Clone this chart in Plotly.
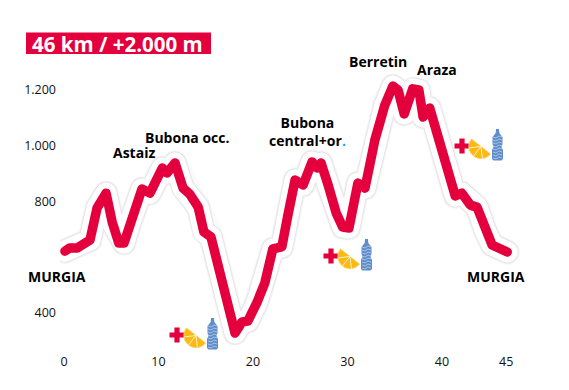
import plotly.graph_objects as go
import math

km = [0.1,0.6,1.4,2.1,2.75,3.5,4.45,5.1,5.8,6.35,7.0,7.6,8.25,9.1,10.4,10.9,11.75,12.6,13.3,14.2,14.8,15.55,
      16.7,17.55,18.1,18.85,19.45,20.4,21.25,22.1,23.05,23.7,24.45,25.3,26.25,26.8,27.2,27.95,28.8,29.5,30.15,
      31.1,31.85,32.9,33.95,34.8,35.35,36.0,36.9,37.55,38.0,38.7,39.8,40.6,41.4,42.1,43.0,43.7,44.55,45.3,46.45,46.9]
alt = [622,633,633,648,662,777,830,726,651,651,726,787,845,830,920,902,938,848,827,780,691,673,
       518,393,328,368,371,436,508,630,637,752,877,859,942,920,938,859,759,708,705,
       866,848,1021,1146,1214,1200,1114,1204,1200,1103,1135,1003,906,820,830,787,780,698,644,626,619]
x_tick_vals = [0,10,20,30,40,46.8]
x_tick_text = ["0","10","20","30","40","45"]
y_tick_vals = [400,800,1000,1200]
y_tick_text = ["400","800","1.000","1.200"]
title = "46 km / +2.000 m"
places = [("Astaiz",134,152),("Bubona occ.",187,137),
          ("Bubona<br>central+or<span style='color:#00AEEF'>.</span>",307,131),
          ("Berretin",378,62),("Araza",437,69),("MURGIA",57,276),("MURGIA",496,276)]
icon_spots = [(177,335),(331,256),(462,146)]

W,H = 569,390
L,R,T,B = 60,540,30,345
PXKM = 9.45; PXM = 0.27875
xr = [(L-64)/PXKM,(R-64)/PXKM]
yr = [1200-(B-90)/PXM,1200-(T-90)/PXM]
RED = "#E4003D"; FONT = "Open Sans, sans-serif"

def fx(p): return (p-L)/(R-L)
def fy(p): return 1-(p-T)/(B-T)
def path(pts, close=True):
    s = " ".join(("M" if i==0 else "L")+f"{fx(a):.5f},{fy(b):.5f}" for i,(a,b) in enumerate(pts))
    return s+(" Z" if close else "")

fig = go.Figure()
for col,w in [("rgba(0,0,0,0.02)",26),("rgba(0,0,0,0.03)",24.5),("rgba(0,0,0,0.05)",23),("#ffffff",21),(RED,9.5)]:
    fig.add_trace(go.Scatter(x=km,y=alt,mode="lines",cliponaxis=False,hoverinfo="skip",line=dict(color=col,width=w)))

shapes = [dict(type="rect",xref="paper",yref="paper",x0=fx(26),x1=fx(211),y0=fy(54),y1=fy(32.5),
               fillcolor=RED,line=dict(width=0),layer="below")]
for cx,cy in icon_spots:
    t=2.6; a=7.5
    cross=[(cx-t,cy-a),(cx+t,cy-a),(cx+t,cy-t),(cx+a,cy-t),(cx+a,cy+t),(cx+t,cy+t),(cx+t,cy+a),(cx-t,cy+a),(cx-t,cy+t),(cx-a,cy+t),(cx-a,cy-t),(cx-t,cy-t)]
    shapes.append(dict(type="path",xref="paper",yref="paper",path=path(cross),fillcolor=RED,line=dict(width=0)))
    ox,oy=cx+9.5,cy-7; ex,ey=cx+28.5,cy+8
    mx,my=(ox+ex)/2,(oy+ey)/2; r=math.hypot(ex-ox,ey-oy)/2; a0=math.atan2(oy-my,ox-mx)
    arc=[(mx+r*math.cos(a0-i*math.pi/14),my+r*math.sin(a0-i*math.pi/14)) for i in range(15)]
    shapes.append(dict(type="path",xref="paper",yref="paper",path=path(arc),fillcolor="#FDB913",line=dict(color="#FBD35F",width=1)))
    for k in (3.5,7,10.5):
        q=a0-k*math.pi/14
        shapes.append(dict(type="path",xref="paper",yref="paper",path=path([(mx,my),(mx+r*math.cos(q),my+r*math.sin(q))],False),line=dict(color="#FFF3C4",width=1)))
    bx=cx+35.5
    bottle=[(bx-1.5,cy-17),(bx+1.5,cy-17),(bx+1.8,cy-13),(bx+5,cy-9),(bx+5,cy-2),(bx+4,cy+1),(bx+5.5,cy+4),(bx+5.5,cy+13),(bx+4,cy+14.5),(bx-4,cy+14.5),(bx-5.5,cy+13),(bx-5.5,cy+4),(bx-4,cy+1),(bx-5,cy-2),(bx-5,cy-9),(bx-1.8,cy-13)]
    shapes.append(dict(type="path",xref="paper",yref="paper",path=path(bottle),fillcolor="#5F8DCB",line=dict(width=0)))
    for dy in range(-9,14,3):
        shapes.append(dict(type="path",xref="paper",yref="paper",
            path=path([(bx-4.5,cy+dy),(bx-1.5,cy+dy+1),(bx+1.5,cy+dy-1),(bx+4.5,cy+dy)],False),line=dict(color="#C9D9EF",width=0.7)))

ann=[dict(xref="paper",yref="paper",x=fx(29.5),y=fy(44),text=f"<b>{title}</b>",showarrow=False,xanchor="left",yanchor="middle",
          font=dict(family=FONT,size=20.5,color="#ffffff"))]
for txt,a,b in places:
    ann.append(dict(xref="paper",yref="paper",x=fx(a),y=fy(b),text=f"<b>{txt}</b>",showarrow=False,xanchor="center",yanchor="middle",
                    font=dict(family=FONT,size=14,color="#000000")))

fig.update_layout(width=W,height=H,margin=dict(l=L,r=W-R,t=T,b=H-B),paper_bgcolor="white",plot_bgcolor="white",
    showlegend=False,shapes=shapes,annotations=ann,font=dict(family=FONT,size=12.5,color="#111111"),
    xaxis=dict(range=xr,tickvals=x_tick_vals,ticktext=x_tick_text,showgrid=False,zeroline=False,showline=False,ticks="",ticklabelstandoff=7,fixedrange=True),
    yaxis=dict(range=yr,tickvals=y_tick_vals,ticktext=y_tick_text,showgrid=False,zeroline=False,showline=False,ticks="",ticklabelstandoff=3,fixedrange=True))
post = """document.body.style.margin='0';document.documentElement.style.overflow='hidden';
document.querySelectorAll('.js-line').forEach(function(e){e.style.strokeLinejoin='round';e.style.strokeLinecap='round';});"""
fig.write_html("out.html",config=dict(displayModeBar=False),post_script=post)
